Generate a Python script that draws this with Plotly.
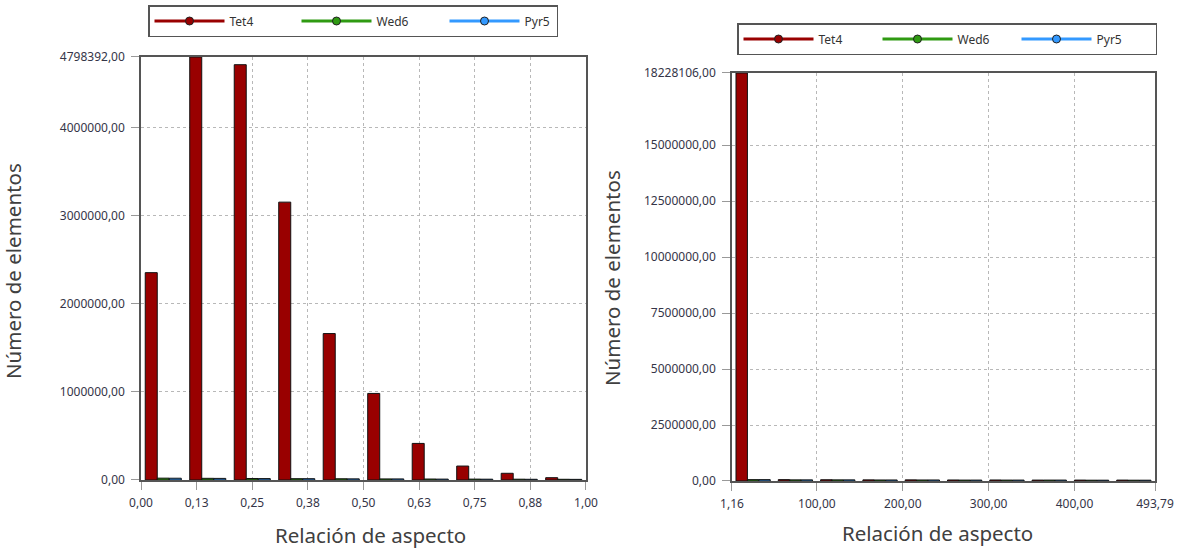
import plotly.graph_objects as go

# ---------------- data ----------------
series_names = ["Tet4", "Wed6", "Pyr5"]
series_colors = ["#990000", "#2f9a12", "#3399ff"]

# left chart: aspect ratio bins 0..1 (bin centres)
left_bins = [0.05, 0.15, 0.25, 0.35, 0.45, 0.55, 0.65, 0.75, 0.85, 0.95]
left_tet4 = [2352000, 4798392, 4711000, 3152000, 1661000, 982000, 415000, 158000, 76000, 26000]
left_wed6 = [21000, 19000, 17000, 15000, 14000, 12000, 11000, 10000, 9000, 8000]
left_pyr5 = [20000, 18000, 16000, 15000, 13000, 12000, 10000, 9000, 8000, 7000]

left_xticks = [0.0, 0.125, 0.25, 0.375, 0.5, 0.625, 0.75, 0.875, 1.0]
left_xticktext = ["0,00", "0,13", "0,25", "0,38", "0,50", "0,63", "0,75", "0,88", "1,00"]
left_yticks = [0, 1000000, 2000000, 3000000, 4000000, 4798392]
left_yticktext = ["0,00", "1000000,00", "2000000,00", "3000000,00", "4000000,00", "4798392,00"]

# right chart: aspect ratio bins 1.16..493.79 (bin centres)
right_bins = [25.79, 75.05, 124.32, 173.58, 222.84, 272.10, 321.37, 370.63, 419.89, 469.16]
right_tet4 = [18228106, 60000, 55000, 50000, 50000, 45000, 45000, 40000, 40000, 40000]
right_wed6 = [60000, 50000, 50000, 45000, 45000, 40000, 40000, 40000, 35000, 35000]
right_pyr5 = [60000, 50000, 50000, 45000, 45000, 40000, 40000, 40000, 35000, 35000]

right_xticks = [1.16, 100, 200, 300, 400, 493.79]
right_xticktext = ["1,16", "100,00", "200,00", "300,00", "400,00", "493,79"]
right_yticks = [0, 2500000, 5000000, 7500000, 10000000, 12500000, 15000000, 18228106]
right_yticktext = ["0,00", "2500000,00", "5000000,00", "7500000,00", "10000000,00",
                   "12500000,00", "15000000,00", "18228106,00"]

x_title = "Relación de aspecto"
y_title = "Número de elementos"

# ---------------- figure ----------------
FONT = "Noto Sans, Open Sans, sans-serif"
fig = go.Figure()

left_vals = [left_tet4, left_wed6, left_pyr5]
right_vals = [right_tet4, right_wed6, right_pyr5]

for name, col, vals in zip(series_names, series_colors, left_vals):
    fig.add_trace(go.Bar(x=left_bins, y=vals, name=name, marker=dict(color=col, line=dict(color="#111", width=1)),
                         xaxis="x", yaxis="y", showlegend=False, hoverinfo="x+y+name"))
for name, col, vals in zip(series_names, series_colors, right_vals):
    fig.add_trace(go.Bar(x=right_bins, y=vals, name=name, marker=dict(color=col, line=dict(color="#111", width=1)),
                         xaxis="x2", yaxis="y2", showlegend=False, hoverinfo="x+y+name"))

# legend entries (line + circle marker style)
legend_specs = [("legend", "x", "y", [62, 63, 27]), ("legend2", "x2", "y2", [54, 54, 54])]
for lg, xa, ya, widths in legend_specs:
    for name, col, lw in zip(series_names, series_colors, widths):
        fig.add_trace(go.Scatter(x=[None], y=[None], name=name, mode="lines+markers",
                                 line=dict(color=col, width=3),
                                 marker=dict(symbol="circle", size=8, color=col, line=dict(color="#222", width=1)),
                                 xaxis=xa, yaxis=ya, legend=lg, showlegend=True, legendwidth=lw))

axis_common = dict(showline=True, mirror=True, linecolor="#555", linewidth=1.5,
                   showgrid=True, gridcolor="#b8b8b8", griddash="3px,3px", gridwidth=1,
                   ticks="outside", tickcolor="#999", zeroline=False, automargin=False,
                   tickfont=dict(family=FONT, size=12, color="#353548"), fixedrange=True)

legend_common = dict(orientation="h", xanchor="left", yanchor="top",
                     bgcolor="white", bordercolor="#555", borderwidth=1.5,
                     font=dict(family=FONT, size=12, color="#333"),
                     itemwidth=70, entrywidthmode="pixels", tracegroupgap=0)

title_font = dict(family=FONT, size=20.5, color="#404040")

fig.update_layout(
    template="none",
    width=1190, height=548,
    margin=dict(l=0, r=0, t=0, b=0, pad=0, autoexpand=False),
    paper_bgcolor="white", plot_bgcolor="white",
    barmode="group", bargap=0.19, bargroupgap=0,
    xaxis=dict(domain=[0.1185, 0.4924], range=[0, 1], tickvals=left_xticks, ticktext=left_xticktext,
               ticklen=8, ticklabelstandoff=3, anchor="y", **axis_common),
    yaxis=dict(domain=[0.1241, 0.8960], range=[0, 4798392], tickvals=left_yticks, ticktext=left_yticktext,
               ticklen=8, ticklabelstandoff=4, anchor="x", **axis_common),
    xaxis2=dict(domain=[0.6151, 0.9706], range=[1.16, 493.79], tickvals=right_xticks, ticktext=right_xticktext,
                ticklen=8, ticklabelstandoff=3, anchor="y2", **axis_common),
    yaxis2=dict(domain=[0.1223, 0.8668], range=[0, 18228106], tickvals=right_yticks, ticktext=right_yticktext,
                ticklen=8, ticklabelstandoff=4, anchor="x2", **axis_common),
    legend=dict(x=148 / 1190, y=1 - 5 / 548, **legend_common),
    legend2=dict(x=737 / 1190, y=1 - 23 / 548, **legend_common),
    annotations=[
        dict(text=x_title, xref="paper", yref="paper", x=370 / 1190, y=1 - 535 / 548, showarrow=False,
             xanchor="center", yanchor="middle", font=title_font),
        dict(text=x_title, xref="paper", yref="paper", x=937 / 1190, y=1 - 533 / 548, showarrow=False,
             xanchor="center", yanchor="middle", font=title_font),
        dict(text=y_title, xref="paper", yref="paper", x=13 / 1190, y=1 - 271 / 548, showarrow=False,
             textangle=-90, xanchor="center", yanchor="middle", font=title_font),
        dict(text=y_title, xref="paper", yref="paper", x=612 / 1190, y=1 - 278 / 548, showarrow=False,
             textangle=-90, xanchor="center", yanchor="middle", font=title_font),
    ],
)

fig.write_html("out.html", config={"displayModeBar": False},
               post_script="document.body.style.margin='0';")
